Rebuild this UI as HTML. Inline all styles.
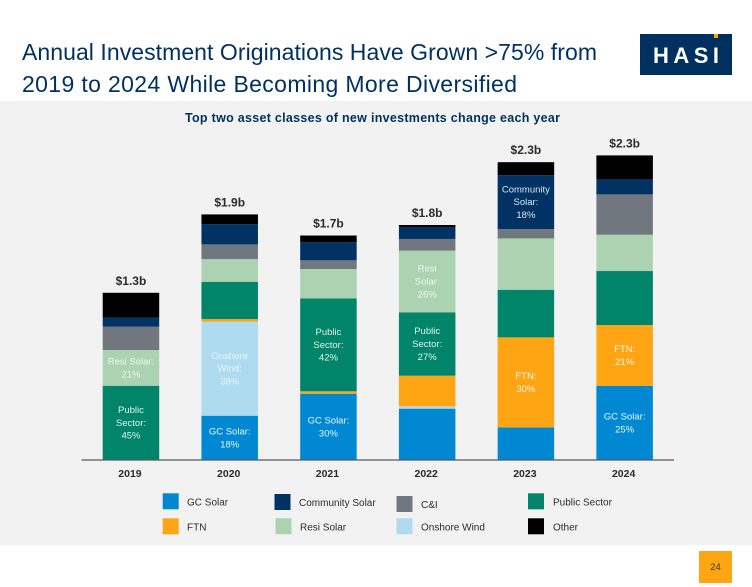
<!DOCTYPE html>
<html lang="en">
<head>
<meta charset="utf-8">
<title>Annual Investment Originations</title>
<style>
html,body{margin:0;padding:0;background:#fff;width:752px;height:587px;overflow:hidden}
svg{display:block;font-family:"Liberation Sans",sans-serif}
</style>
</head>
<body>
<svg id="chart" width="752" height="587" viewBox="0 0 752 587" xmlns="http://www.w3.org/2000/svg">
  <rect x="0" y="0" width="752" height="587" fill="#ffffff"/>
  <rect x="0" y="101" width="752" height="444" fill="#f2f2f2"/>
  <text x="22" y="60" font-size="23" fill="#00305f" textLength="575" lengthAdjust="spacing">Annual Investment Originations Have Grown &gt;75% from</text>
  <text x="22" y="92" font-size="23" fill="#00305f" textLength="495" lengthAdjust="spacing">2019 to 2024 While Becoming More Diversified</text>
  <g>
    <rect x="640" y="34" width="92" height="41" fill="#00305f"/>
    <rect x="714" y="34" width="4" height="4" fill="#ffa413"/>
    <text x="653" y="63" font-size="22" font-weight="700" fill="#ffffff" textLength="66" lengthAdjust="spacing">HASI</text>
  </g>
  <text x="185" y="122" font-size="12.5" font-weight="700" fill="#00305f" textLength="375" lengthAdjust="spacing">Top two asset classes of new investments change each year</text>
  <g id="plot"></g>
  <g id="legend"></g>
  <rect x="699" y="551" width="33" height="32" fill="#ffa413"/>
  <text x="715.5" y="570" font-size="9.5" fill="#3a3a3a" text-anchor="middle">24</text>
</svg>
<script>
// Chart data, in $ millions
const years = ['2019', '2020', '2021', '2022', '2023', '2024'];
const totalLabels = ['$1.3b', '$1.9b', '$1.7b', '$1.8b', '$2.3b', '$2.3b'];
const gcSolar = [0, 334, 500, 387, 246, 560];
const onshoreWind = [0, 709, 0, 18, 0, 0];
const ftn = [0, 20, 18, 231, 679, 458];
const publicSector = [560, 281, 701, 478, 359, 407];
const resiSolar = [269, 171, 221, 465, 387, 274];
const candI = [176, 111, 66, 88, 70, 304];
const communitySolar = [70, 153, 136, 90, 407, 113];
const other = [186, 73, 51, 15, 98, 181];
// Printed labels: one entry per labelled segment [year index, series key, lines]
const segmentLabels = [
  [0, 'public', ['Public', 'Sector:', '45%']],
  [0, 'resi', ['Resi Solar:', '21%']],
  [1, 'gc', ['GC Solar:', '18%']],
  [1, 'wind', ['Onshore', 'Wind:', '38%']],
  [2, 'gc', ['GC Solar:', '30%']],
  [2, 'public', ['Public', 'Sector:', '42%']],
  [3, 'public', ['Public', 'Sector:', '27%']],
  [3, 'resi', ['Resi', 'Solar:', '26%']],
  [4, 'ftn', ['FTN:', '30%']],
  [4, 'community', ['Community', 'Solar:', '18%']],
  [5, 'gc', ['GC Solar:', '25%']],
  [5, 'ftn', ['FTN:', '21%']]
];

const series = [
  { key: 'gc', name: 'GC Solar', values: gcSolar, color: '#0089d2', label: '#e8f5fc' },
  { key: 'wind', name: 'Onshore Wind', values: onshoreWind, color: '#afdbf1', label: '#eaf6fc' },
  { key: 'ftn', name: 'FTN', values: ftn, color: '#ffa413', label: '#fff6e4' },
  { key: 'public', name: 'Public Sector', values: publicSector, color: '#00856a', label: '#dff2ec' },
  { key: 'resi', name: 'Resi Solar', values: resiSolar, color: '#acd3b1', label: '#eef7ef' },
  { key: 'cni', name: 'C&I', values: candI, color: '#70777e', label: '#ffffff' },
  { key: 'community', name: 'Community Solar', values: communitySolar, color: '#003263', label: '#dce8f2' },
  { key: 'other', name: 'Other', values: other, color: '#000000', label: '#ffffff' }
];

const NS = 'http://www.w3.org/2000/svg';
const baseY = 460;
const axisLeft = 81.6;
const axisRight = 674;
const pxPerUnit = 0.1326;
const barWidth = 56.5;
const bandWidth = (axisRight - axisLeft) / years.length;

function xCenter(i) { return axisLeft + bandWidth * (i + 0.5); }
function yScale(v) { return baseY - v * pxPerUnit; }

function make(parent, tag, attrs, text) {
  const el = document.createElementNS(NS, tag);
  for (const k in attrs) el.setAttribute(k, attrs[k]);
  if (text !== undefined) el.textContent = text;
  parent.appendChild(el);
  return el;
}

const plot = document.getElementById('plot');
const legend = document.getElementById('legend');
const segmentCentres = {};

years.forEach(function (year, i) {
  let cum = 0;
  series.forEach(function (s) {
    const v = s.values[i];
    const y0 = yScale(cum);
    const y1 = yScale(cum + v);
    segmentCentres[i + '-' + s.key] = (y0 + y1) / 2;
    if (v > 0) {
      const seg = make(plot, 'rect', {
        x: xCenter(i) - barWidth / 2,
        y: y1,
        width: barWidth,
        height: y0 - y1,
        fill: s.color
      });
      
      
    }
    cum += v;
  });

  const total = make(plot, 'text', {
    x: xCenter(i),
    y: yScale(cum) - 8,
    'font-size': 12,
    'font-weight': 700,
    fill: '#2b2b2b',
    'text-anchor': 'middle'
  }, totalLabels[i]);
  
  

  const tick = make(plot, 'text', {
    x: xCenter(i) - 1,
    y: 477,
    'font-size': 10.5,
    'font-weight': 700,
    fill: '#2b2b2b',
    'text-anchor': 'middle'
  }, year);
  
  
});

const axis = make(plot, 'line', { x1: axisLeft, x2: axisRight, y1: baseY, y2: baseY, stroke: '#555a5e', 'stroke-width': 1.2 });



segmentLabels.forEach(function (entry) {
  const i = entry[0];
  const s = series.find(function (d) { return d.key === entry[1]; });
  const lines = entry[2];
  const cy = segmentCentres[i + '-' + entry[1]];
  const lineHeight = 12.8;
  lines.forEach(function (line, n) {
    const t = make(plot, 'text', {
      x: xCenter(i),
      y: cy + (n - (lines.length - 1) / 2) * lineHeight + 3,
      'font-size': 9.5,
      fill: s.label,
      'text-anchor': 'middle'
    }, line);
    
    
  });
});

// Legend layout
const legendItems = [
  ['gc', 162.7, 493.3, 187],
  ['community', 274.5, 494, 299],
  ['cni', 396.5, 496, 421],
  ['public', 528, 493.3, 553],
  ['ftn', 162.7, 518.3, 187],
  ['resi', 275.5, 518.3, 300],
  ['wind', 396.5, 518.3, 421],
  ['other', 528, 518.3, 553]
];
legendItems.forEach(function (item) {
  const s = series.find(function (d) { return d.key === item[0]; });
  const sw = make(legend, 'rect', { x: item[1], y: item[2], width: 16, height: 16, fill: s.color });
  
  
  const lt = make(legend, 'text', { x: item[3], y: item[2] + 12, 'font-size': 10, fill: '#2b2b2b' }, s.name);
  
  
});
</script>
</body>
</html>
